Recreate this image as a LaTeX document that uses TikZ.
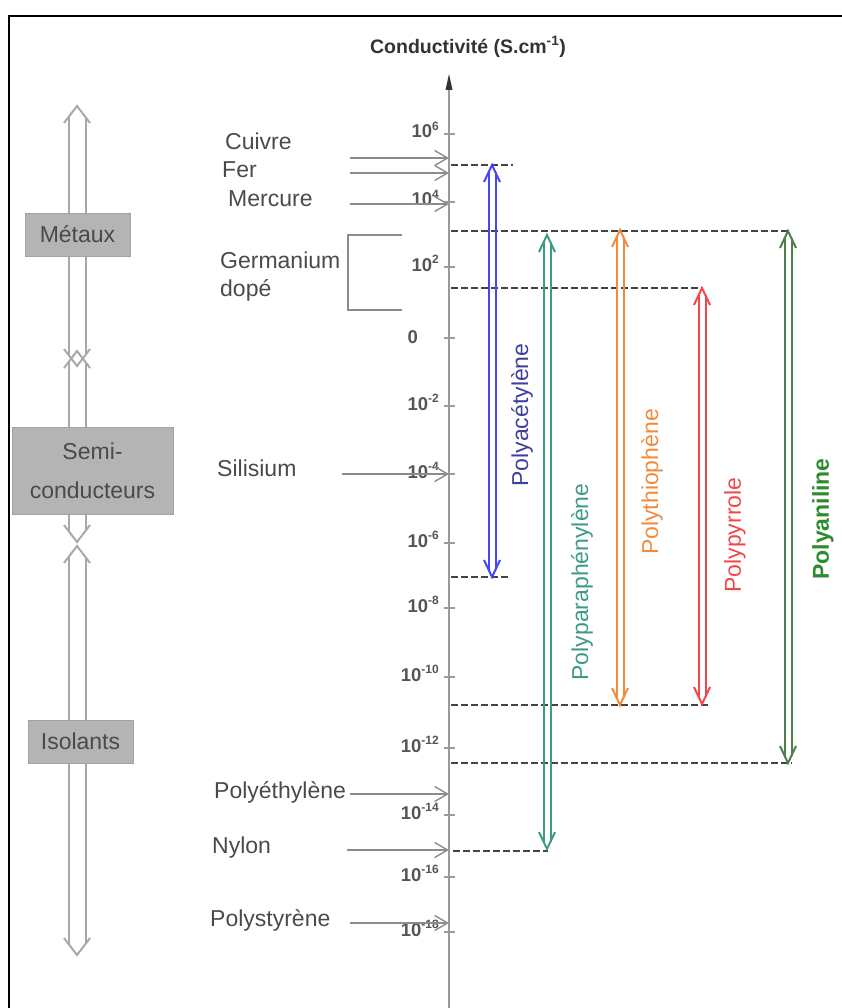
\documentclass[tikz,border=0pt]{standalone}
\usepackage{fontspec}
\setmainfont{Liberation Sans}
\usetikzlibrary{arrows.meta}
\definecolor{txt}{HTML}{4A4A4A}
\definecolor{ticktxt}{HTML}{555555}
\definecolor{axisgray}{HTML}{9A9A9A}
\definecolor{boxgray}{HTML}{B4B4B4}
\definecolor{arrgray}{HTML}{A8A8A8}
\definecolor{matgray}{HTML}{8C8C8C}
\definecolor{dashcol}{HTML}{444444}
\definecolor{cblue}{HTML}{4545F5}
\definecolor{cblueT}{HTML}{3E3E9E}
\definecolor{cteal}{HTML}{3E9A85}
\definecolor{corange}{HTML}{F28A3C}
\definecolor{cred}{HTML}{F04848}
\definecolor{cgreen}{HTML}{4D7F4D}
\definecolor{cgreenT}{HTML}{2E8B2E}
\newcommand\hollowarr[7]{%
 \pgfmathsetmacro\hoyA{#3+#7*#5/#6}%
 \pgfmathsetmacro\hoyB{#4-#7*#5/#6}%
 \draw[#1] ({#2-#6},{#3+#7}) -- (#2,#3) -- ({#2+#6},{#3+#7});
 \draw[#1] ({#2-#5},\hoyA) -- ({#2-#5},\hoyB);
 \draw[#1] ({#2+#5},\hoyA) -- ({#2+#5},\hoyB);
 \draw[#1] ({#2-#6},{#4-#7}) -- (#2,#4) -- ({#2+#6},{#4-#7});
}
\newcommand\tlab[1]{10\raisebox{0.8ex}{\fontsize{12}{12}\selectfont #1}}
\tikzset{
 lab/.style={anchor=base west, text=txt, font=\fontsize{23}{27}\selectfont, inner sep=0pt},
 ticklab/.style={anchor=base east, text=ticktxt, font=\fontsize{18.5}{20}\selectfont\bfseries, inner sep=0pt},
 matarrow/.style={matgray, line width=1.5pt, -{Straight Barb[length=13pt,width=15pt,line width=1.4pt]}},
 dashline/.style={dashcol, line width=2pt, dash pattern=on 6.5pt off 3.5pt},
 catbox/.style={fill=boxgray, draw=boxgray!90!black, line width=0.3pt, text=txt, font=\fontsize{23}{27}\selectfont, align=center},
 vlab/.style={rotate=90, font=\fontsize{23}{27}\selectfont, inner sep=0pt},
 catarr/.style={arrgray, line width=2pt, line join=miter},
 colarr/.style={line width=2pt}
}
\begin{document}
\begin{tikzpicture}[x=1pt,y=-1pt]
\useasboundingbox (0,0) rectangle (842,1008);
% frame
\draw[line width=2.4pt] (9,1008) -- (9,16) -- (842,16);
% title
\node[text=black!80, font=\fontsize{19.5}{22}\selectfont\bfseries] (title) at (468,47) {Conductivité (S.cm\textsuperscript{-1})};
% axis
\coordinate (axbot) at (449,1008);
\coordinate (axtop) at (449,88);
\draw[axisgray, line width=1.8pt] (axbot) -- (axtop);
\fill[black!80] (449,74) -- (445.5,90) -- (452.5,90) -- cycle;
% ticks
\foreach \yy/\ee in {134/6,202/4,267/2,406/-2,474/-4,543/-6,608/-8,677/-10,748/-12,815/-14,877/-16,932/-18}{
  \draw[axisgray, line width=1.5pt] (444,\yy) -- (455,\yy);
  \node[ticklab] at (439,\yy+4) {\tlab{\ee}};
}
\draw[axisgray, line width=1.5pt] (444,338) -- (455,338);
\node[ticklab] at (418,343) {0};
% dashed lines
\draw[dashline] (451,165) -- (513,165);
\draw[dashline] (451,231) -- (790,231);
\draw[dashline] (451,288) -- (700,288);
\draw[dashline] (451,577) -- (510,577);
\draw[dashline] (451,705) -- (708,705);
\draw[dashline] (451,763) -- (792,763);
\draw[dashline] (453,851) -- (548,851);
% coloured double arrows
\hollowarr{cblue,colarr}{492}{165}{577}{3.5}{8}{17}
\hollowarr{cteal,colarr}{547}{235}{849}{3.5}{8}{17}
\hollowarr{corange,colarr}{620}{230}{705}{3.5}{8}{17}
\hollowarr{cred,colarr}{702}{288}{704}{3.5}{8}{17}
\hollowarr{cgreen,colarr}{788}{231}{763}{3.5}{8}{17}
\node[vlab, text=cblueT] (pac) at (522,415) {Polyacétylène};
\node[vlab, text=cteal] (ppp) at (582,582) {Polyparaphénylène};
\node[vlab, text=corange] (pth) at (652,482) {Polythiophène};
\node[vlab, text=cred] (ppy) at (735,535) {Polypyrrole};
\node[vlab, text=cgreenT, font=\fontsize{23}{27}\selectfont\bfseries] (pan) at (823,519) {Polyaniline};
% material labels and arrows
\node[lab] (cu) at (225,150) {Cuivre};
\node[lab] (fe) at (222,178) {Fer};
\node[lab] (hg) at (228,207) {Mercure};
\node[lab] (ge1) at (220,268) {Germanium};
\node[lab] (ge2) at (220,296) {dopé};
\node[lab] (si) at (217,476) {Silisium};
\node[lab] (pe) at (214,798) {Polyéthylène};
\node[lab] (ny) at (212,853) {Nylon};
\node[lab] (ps) at (210,926) {Polystyrène};
\draw[matarrow] (350,158) -- (449,158);
\draw[matarrow] (350,173) -- (449,173);
\draw[matarrow] (350,204) -- (449,204);
\draw[matarrow] (342,474) -- (449,474);
\draw[matarrow] (350,794) -- (449,794);
\draw[matarrow] (347,850) -- (449,850);
\draw[matarrow] (350,923) -- (449,923);
\draw[matgray, line width=1.8pt] (402,235) -- (348,235) -- (348,310) -- (402,310);
% category arrows
\hollowarr{catarr}{77}{106}{366}{8.5}{13}{17}
\hollowarr{catarr}{77}{351}{542}{8.5}{13}{17}
\hollowarr{catarr}{77}{546}{955}{8.5}{13}{17}
\node[catbox, minimum width=105pt, minimum height=43pt] (met) at (77.5,234.5) {Métaux};
\node[catbox, minimum width=161pt, minimum height=87pt, inner sep=0pt] (semi) at (92.5,470.5) {Semi-\\[12pt]conducteurs};
\node[catbox, minimum width=105pt, minimum height=43pt] (iso) at (80.5,741.5) {Isolants};
\end{tikzpicture}
\end{document}
